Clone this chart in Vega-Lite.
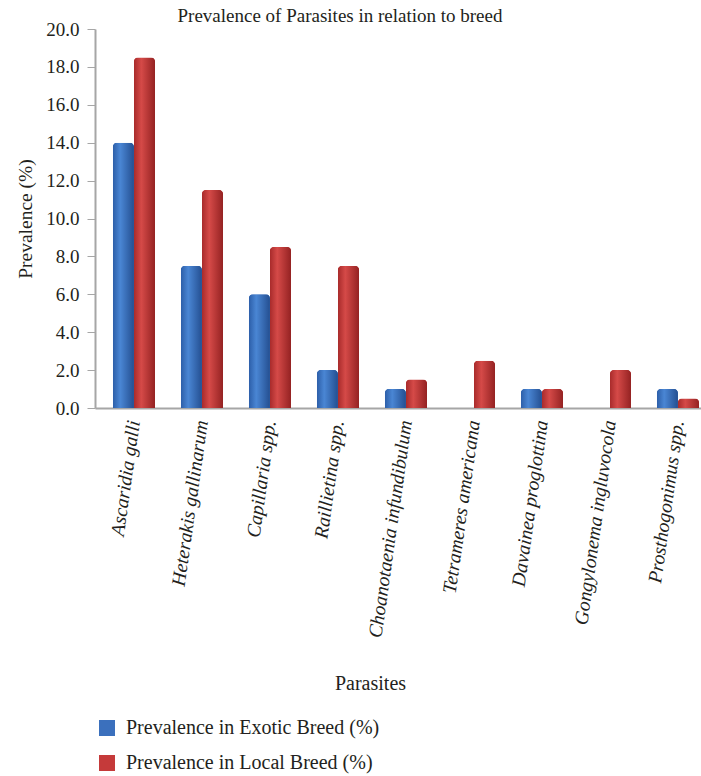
{
  "$schema": "https://vega.github.io/schema/vega-lite/v6.json",
  "autosize": {"type": "none"},
  "padding": {"left": 95, "top": 29, "right": 0, "bottom": 368},
  "width": 606,
  "height": 379,
  "background": "white",
  "title": {
    "text": "Prevalence of Parasites in relation to breed",
    "font": "Liberation Serif, serif",
    "fontSize": 19,
    "fontWeight": "normal",
    "color": "#231f20",
    "anchor": "middle",
    "frame": "group",
    "dx": -58,
    "dy": 12,
    "offset": 6
  },
  "config": {
    "view": {"stroke": null},
    "font": "Liberation Serif, serif"
  },
  "data": {
    "values": [
      {"parasite": "Ascaridia galli", "breed": "Prevalence in Exotic Breed (%)", "value": 14.0},
      {"parasite": "Ascaridia galli", "breed": "Prevalence in Local Breed (%)", "value": 18.5},
      {"parasite": "Heterakis gallinarum", "breed": "Prevalence in Exotic Breed (%)", "value": 7.5},
      {"parasite": "Heterakis gallinarum", "breed": "Prevalence in Local Breed (%)", "value": 11.5},
      {"parasite": "Capillaria spp.", "breed": "Prevalence in Exotic Breed (%)", "value": 6.0},
      {"parasite": "Capillaria spp.", "breed": "Prevalence in Local Breed (%)", "value": 8.5},
      {"parasite": "Raillietina spp.", "breed": "Prevalence in Exotic Breed (%)", "value": 2.0},
      {"parasite": "Raillietina spp.", "breed": "Prevalence in Local Breed (%)", "value": 7.5},
      {"parasite": "Choanotaenia infundibulum", "breed": "Prevalence in Exotic Breed (%)", "value": 1.0},
      {"parasite": "Choanotaenia infundibulum", "breed": "Prevalence in Local Breed (%)", "value": 1.5},
      {"parasite": "Tetrameres americana", "breed": "Prevalence in Exotic Breed (%)", "value": 0.0},
      {"parasite": "Tetrameres americana", "breed": "Prevalence in Local Breed (%)", "value": 2.5},
      {"parasite": "Davainea proglottina", "breed": "Prevalence in Exotic Breed (%)", "value": 1.0},
      {"parasite": "Davainea proglottina", "breed": "Prevalence in Local Breed (%)", "value": 1.0},
      {"parasite": "Gongylonema ingluvocola", "breed": "Prevalence in Exotic Breed (%)", "value": 0.0},
      {"parasite": "Gongylonema ingluvocola", "breed": "Prevalence in Local Breed (%)", "value": 2.0},
      {"parasite": "Prosthogonimus spp.", "breed": "Prevalence in Exotic Breed (%)", "value": 1.0},
      {"parasite": "Prosthogonimus spp.", "breed": "Prevalence in Local Breed (%)", "value": 0.5}
    ]
  },
  "encoding": {
    "x": {
      "field": "parasite",
      "type": "nominal",
      "sort": null,
      "scale": {"paddingInner": 0.38, "paddingOuter": 0.146, "align": 0.9},
      "axis": {
        "title": "Parasites",
        "titleFont": "Liberation Serif, serif",
        "titleFontSize": 20,
        "titleFontWeight": "normal",
        "titleColor": "#231f20",
        "titleX": 275,
        "titleY": 275,
        "titleAlign": "center",
        "titleBaseline": "middle",
        "labelAngle": -82,
        "labelAlign": "right",
        "labelBaseline": "middle",
        "labelFont": "Liberation Serif, serif",
        "labelFontStyle": "italic",
        "labelFontSize": 19.5,
        "labelColor": "#231f20",
        "labelPadding": 12,
        "labelLimit": 400,
        "ticks": false,
        "domainColor": "#a6a6a6",
        "domainWidth": 2
      }
    },
    "xOffset": {"field": "breed", "type": "nominal", "scale": {"paddingInner": 0}},
    "y": {
      "field": "value",
      "type": "quantitative",
      "scale": {"domain": [0, 20], "nice": false},
      "axis": {
        "title": "Prevalence (%)",
        "titleFont": "Liberation Serif, serif",
        "titleFontSize": 19.5,
        "titleFontWeight": "normal",
        "titleColor": "#231f20",
        "titlePadding": 10,
        "values": [0, 2, 4, 6, 8, 10, 12, 14, 16, 18, 20],
        "format": ".1f",
        "labelFont": "Liberation Serif, serif",
        "labelFontSize": 19,
        "labelColor": "#231f20",
        "labelPadding": 8,
        "grid": false,
        "tickSize": 8,
        "tickColor": "#a6a6a6",
        "domainColor": "#a6a6a6",
        "domainWidth": 2
      }
    }
  },
  "layer": [
    {
      "mark": {"type": "bar", "cornerRadiusTopLeft": 4, "cornerRadiusTopRight": 4},
      "encoding": {
        "color": {
          "field": "breed",
          "type": "nominal",
          "scale": {
            "domain": ["Prevalence in Exotic Breed (%)", "Prevalence in Local Breed (%)"],
            "range": ["#3b70bd", "#c53a3a"]
          },
          "legend": {
            "orient": "none",
            "legendX": 2,
            "legendY": 689,
            "direction": "vertical",
            "title": null,
            "symbolType": "square",
            "symbolSize": 256,
            "symbolStrokeWidth": 0,
            "labelFont": "Liberation Serif, serif",
            "labelFontSize": 20,
            "labelColor": "#231f20",
            "labelOffset": 9,
            "rowPadding": 15,
            "labelLimit": 400
          }
        }
      }
    },
    {
      "transform": [{"filter": "datum.breed === 'Prevalence in Exotic Breed (%)'"}],
      "mark": {
        "type": "bar",
        "cornerRadiusTopLeft": 4,
        "cornerRadiusTopRight": 4,
        "fill": {
          "gradient": "linear", "x1": 0, "x2": 1, "y1": 0, "y2": 0,
          "stops": [
            {"offset": 0, "color": "#2c5ea8"},
            {"offset": 0.35, "color": "#4a86d4"},
            {"offset": 1, "color": "#244f91"}
          ]
        }
      }
    },
    {
      "transform": [{"filter": "datum.breed === 'Prevalence in Local Breed (%)'"}],
      "mark": {
        "type": "bar",
        "cornerRadiusTopLeft": 4,
        "cornerRadiusTopRight": 4,
        "fill": {
          "gradient": "linear", "x1": 0, "x2": 1, "y1": 0, "y2": 0,
          "stops": [
            {"offset": 0, "color": "#a82b2b"},
            {"offset": 0.35, "color": "#d54a48"},
            {"offset": 1, "color": "#942222"}
          ]
        }
      }
    }
  ]
}
